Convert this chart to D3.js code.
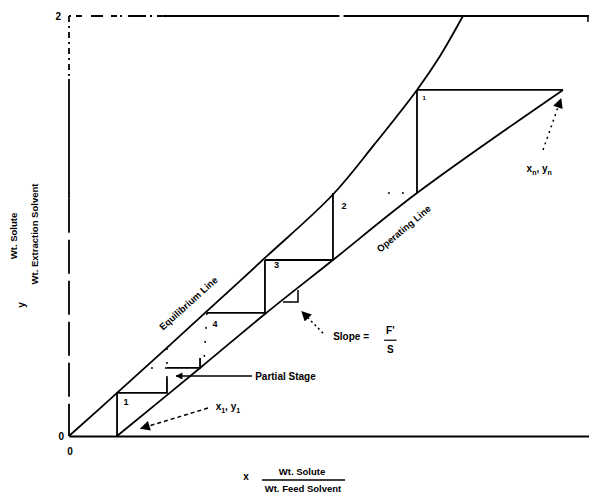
<!DOCTYPE html>
<html><head><meta charset="utf-8">
<script src="https://cdn.jsdelivr.net/npm/d3@7/dist/d3.min.js"></script>
<style>
body{margin:0;background:#fff;}
svg text{font-family:"Liberation Sans",Arial,sans-serif;font-weight:bold;fill:#000;}
</style></head>
<body><svg id="c" width="589" height="495"></svg>
<script>
// ---- data ----
const xDomain = [0, 2.5];
const yDomain = [0, 2];
const yTickLabels = ["0", "2"];
const xTickLabels = ["0"];
// equilibrium curve
const eqX = [0, 0.231, 0.654, 0.942, 1.269, 1.471, 1.673, 1.784, 1.894];
const eqY = [0, 0.205, 0.586, 0.848, 1.150, 1.392, 1.648, 1.810, 2.0];
// operating line
const opX = [0.231, 0.630, 0.942, 1.269, 1.673, 2.375];
const opY = [0, 0.324, 0.581, 0.838, 1.157, 1.648];
// upper stairs (full stages)
const stairX = [2.375, 1.673, 1.673, 1.269, 1.269, 0.942, 0.942, 0.663];
const stairY = [1.648, 1.648, 1.157, 1.157, 0.838, 0.838, 0.586, 0.586];
// lower stairs (partial stage region)
const lowAX = [0.630, 0.630, 0.471];
const lowAY = [0.371, 0.324, 0.324];
const lowBX = [0.471, 0.471, 0.231, 0.231];
const lowBY = [0.276, 0.205, 0.205, 0];
// faint construction segments [x1,y1,x2,y2]
const dotSegs = [
  [1.610, 1.157, 1.500, 1.157],
  [0.663, 0.586, 0.650, 0.371],
  [0.471, 0.324, 0.385, 0.324],
  [0.471, 0.419, 0.471, 0.276]
];
// slope triangle
const triX = [1.029, 1.101, 1.101];
const triY = [0.638, 0.638, 0.695];
// stage labels
const stageLabels = ["1", "2", "3", "4", "1"];
const stageLabelX = [1.700, 1.310, 0.985, 0.690, 0.262];
const stageLabelY = [1.600, 1.080, 0.800, 0.520, 0.150];

const svg = d3.select("#c");
const x = d3.scaleLinear().domain(xDomain).range([69, 589]);
const y = d3.scaleLinear().domain(yDomain).range([436, 16]);

// markers
const defs = svg.append("defs");
defs.append("marker").attr("id","ah").attr("viewBox","0 0 10 10").attr("refX",9).attr("refY",5)
  .attr("markerWidth",9).attr("markerHeight",7).attr("markerUnits","userSpaceOnUse").attr("orient","auto")
  .append("path").attr("d","M0,0L10,5L0,10z").attr("fill","#000");
defs.append("marker").attr("id","ah2").attr("viewBox","0 0 10 10").attr("refX",9).attr("refY",5)
  .attr("markerWidth",12).attr("markerHeight",10).attr("markerUnits","userSpaceOnUse").attr("orient","auto")
  .append("path").attr("d","M0,0L10,5L0,10z").attr("fill","#000");

// frame: x axis
const axisX = d3.axisBottom(x).tickValues([]).tickSizeOuter(0);
svg.append("g").attr("transform",`translate(0,${y(0)})`).call(axisX)
  .select(".domain").attr("stroke","#000").attr("stroke-width",2.2);

// y axis in pieces (scanned dash pattern)
const ln = (x1,y1,x2,y2) => svg.append("line").attr("x1",x1).attr("y1",y1).attr("x2",x2).attr("y2",y2).attr("stroke","#000");
ln(x(0), y(2), x(0), y(1.70)).attr("stroke-width",1.8).attr("stroke-dasharray","6,4,2,4");
ln(x(0), y(1.70), x(0), y(1.13)).attr("stroke-width",1.8);
ln(x(0), y(1.13), x(0), y(0)).attr("stroke-width",1.8).attr("stroke-dasharray","34,7");
// top line
ln(x(0), y(2), x(0.45), y(2)).attr("stroke-width",1.8).attr("stroke-dasharray","2,5,6,9,12,8,6,3,2,6,18,4");
ln(x(0.45), y(2), x(1.30), y(2)).attr("stroke-width",1.8);
ln(x(1.32), y(2), x(2.5), y(2)).attr("stroke-width",1.8);
ln(x(2.495), y(2), x(2.495), y(2)+6).attr("stroke-width",1.5);

// tick labels
svg.append("text").attr("x",x(0)-8).attr("y",y(2)+4).attr("font-size",10).attr("text-anchor","end").text(yTickLabels[1]);
svg.append("text").attr("x",x(0)-5).attr("y",y(0)+4).attr("font-size",10).attr("text-anchor","end").text(yTickLabels[0]);
svg.append("text").attr("x",x(0)+1).attr("y",y(0)+19).attr("font-size",10).attr("text-anchor","middle").text(xTickLabels[0]);

// curves
const lineGen = d3.line().x(d=>x(d[0])).y(d=>y(d[1]));
svg.append("path").datum(d3.zip(eqX,eqY)).attr("d",lineGen.curve(d3.curveCatmullRom.alpha(0.5)))
  .attr("fill","none").attr("stroke","#000").attr("stroke-width",1.8);
svg.append("path").datum(d3.zip(opX,opY)).attr("d",d3.line().x(d=>x(d[0])).y(d=>y(d[1])).curve(d3.curveCatmullRom.alpha(0.5)))
  .attr("fill","none").attr("stroke","#000").attr("stroke-width",1.8);

const straight = d3.line().x(d=>x(d[0])).y(d=>y(d[1]));
// stairs
const stairPts = d3.zip(stairX, stairY);
for (let i=0;i<stairPts.length-1;i++){
  if (i===2) continue; // faint in the scan, drawn below
  svg.append("path").datum([stairPts[i],stairPts[i+1]]).attr("d",straight)
    .attr("fill","none").attr("stroke","#000").attr("stroke-width",1.8);
}
svg.append("path").datum(d3.zip(lowAX,lowAY)).attr("d",straight).attr("fill","none").attr("stroke","#000").attr("stroke-width",1.8);
svg.append("path").datum(d3.zip(lowBX,lowBY)).attr("d",straight).attr("fill","none").attr("stroke","#000").attr("stroke-width",1.8);
dotSegs.forEach(s=>{
  svg.append("path").datum([[s[0],s[1]],[s[2],s[3]]]).attr("d",straight)
    .attr("fill","none").attr("stroke","#000").attr("stroke-width",1.5).attr("stroke-dasharray","2,12");
});
// slope triangle
svg.append("path").datum(d3.zip(triX,triY)).attr("d",straight).attr("fill","none").attr("stroke","#000").attr("stroke-width",1.5);

// stage labels
stageLabels.forEach((t,i)=>{
  svg.append("text").attr("x",x(stageLabelX[i])).attr("y",y(stageLabelY[i])).attr("font-size", i===0?6:9).text(t);
});

// line labels
function rotText(px,py,ang,txt){
  return svg.append("text").attr("transform",`translate(${px},${py}) rotate(${ang})`).attr("text-anchor","middle").attr("font-size",9.5).text(txt);
}
rotText(x(0.585), y(0.62), -42, "Equilibrium Line");
rotText(x(1.62), y(0.975), -40, "Operating Line");

// partial stage pointer
svg.append("line").attr("x1",x(0.880)).attr("y1",y(0.286)).attr("x2",x(0.515)).attr("y2",y(0.286))
  .attr("stroke","#000").attr("stroke-width",1.6).attr("marker-end","url(#ah)");
svg.append("text").attr("x",x(0.895)).attr("y",y(0.286)+4).attr("font-size",10).text("Partial Stage");

// x1,y1 pointer
svg.append("line").attr("x1",x(0.668)).attr("y1",y(0.133)).attr("x2",x(0.345)).attr("y2",y(0.036))
  .attr("stroke","#000").attr("stroke-width",1.5).attr("stroke-dasharray","4,3").attr("marker-end","url(#ah2)");
const t1 = svg.append("text").attr("x",x(0.705)).attr("y",y(0.125)).attr("font-size",10);
t1.append("tspan").text("x");
t1.append("tspan").attr("font-size",7).attr("dy",3).text("1");
t1.append("tspan").attr("dy",-3).text(", y");
t1.append("tspan").attr("font-size",7).attr("dy",3).text("1");

// xn,yn pointer
svg.append("line").attr("x1",x(2.279)).attr("y1",y(1.362)).attr("x2",x(2.365)).attr("y2",y(1.605))
  .attr("stroke","#000").attr("stroke-width",1.5).attr("stroke-dasharray","2,4").attr("marker-end","url(#ah2)");
const t2 = svg.append("text").attr("x",x(2.20)).attr("y",y(1.255)).attr("font-size",10);
t2.append("tspan").text("x");
t2.append("tspan").attr("font-size",7).attr("dy",3).text("n");
t2.append("tspan").attr("dy",-3).text(", y");
t2.append("tspan").attr("font-size",7).attr("dy",3).text("n");

// slope pointer
svg.append("line").attr("x1",x(1.221)).attr("y1",y(0.490)).attr("x2",x(1.120)).attr("y2",y(0.592))
  .attr("stroke","#000").attr("stroke-width",1.5).attr("stroke-dasharray","2,3").attr("marker-end","url(#ah2)");
svg.append("text").attr("x",x(1.27)).attr("y",y(0.455)).attr("font-size",10).text("Slope =");
svg.append("text").attr("x",x(1.545)).attr("y",y(0.485)).attr("font-size",10).attr("text-anchor","middle").text("F'");
svg.append("line").attr("x1",x(1.515)).attr("x2",x(1.575)).attr("y1",y(0.456)).attr("y2",y(0.456)).attr("stroke","#000").attr("stroke-width",1.2);
svg.append("text").attr("x",x(1.545)).attr("y",y(0.395)).attr("font-size",10).attr("text-anchor","middle").text("S");

// x axis label
svg.append("text").attr("x",246).attr("y",480).attr("font-size",10).attr("text-anchor","middle").text("x");
svg.append("text").attr("x",302).attr("y",475).attr("font-size",9.5).attr("text-anchor","middle").text("Wt. Solute");
svg.append("line").attr("x1",262).attr("x2",345).attr("y1",480).attr("y2",480).attr("stroke","#000").attr("stroke-width",1.3);
svg.append("text").attr("x",303).attr("y",492).attr("font-size",9.5).attr("text-anchor","middle").text("Wt. Feed Solvent");

// y axis label
svg.append("text").attr("transform","translate(25,305) rotate(-90)").attr("font-size",10).attr("text-anchor","middle").text("y");
svg.append("text").attr("transform","translate(17,236) rotate(-90)").attr("font-size",9.5).attr("text-anchor","middle").text("Wt. Solute");
svg.append("text").attr("transform","translate(38,234) rotate(-90)").attr("font-size",9.5).attr("text-anchor","middle").text("Wt. Extraction Solvent");
</script></body></html>
